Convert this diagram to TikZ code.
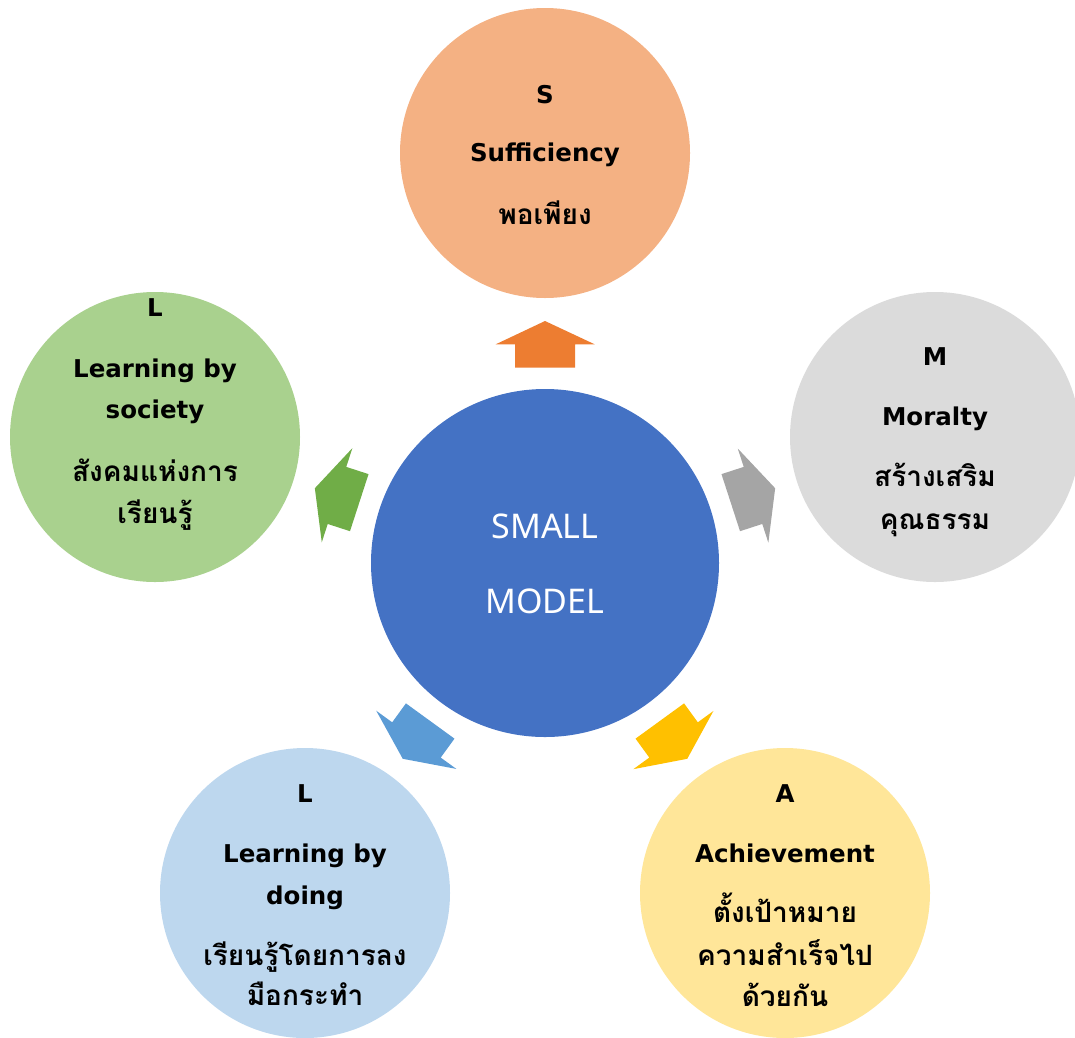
\documentclass[tikz,border=0pt]{standalone}
\usepackage{fontspec}
\setmainfont{DejaVu Sans}
\newfontfamily\ctrfont{Noto Sans}
\newfontfamily\thaifont[Script=Thai]{Loma}
\definecolor{cS}{HTML}{F4B183}
\definecolor{cM}{HTML}{DBDBDB}
\definecolor{cLl}{HTML}{A9D18E}
\definecolor{cLb}{HTML}{BDD7EE}
\definecolor{cA}{HTML}{FFE699}
\definecolor{cC}{HTML}{4472C4}
\definecolor{aO}{HTML}{ED7D31}
\definecolor{aG}{HTML}{A5A5A5}
\definecolor{aY}{HTML}{FFC000}
\definecolor{aB}{HTML}{5B9BD5}
\definecolor{aGr}{HTML}{70AD47}
\tikzset{
  sat/.style={circle, inner sep=0pt, minimum size=290pt, draw=none},
  lat/.style={anchor=base, inner sep=0pt, font=\fontsize{24.5}{29}\selectfont\bfseries},
  th/.style={anchor=base, inner sep=0pt, font=\fontsize{28}{33}\selectfont\thaifont\bfseries},
  ctr/.style={anchor=base, inner sep=0pt, text=white, font=\fontsize{34}{40}\selectfont\ctrfont},
}
\begin{document}
\begin{tikzpicture}[x=1pt,y=-1pt]
\useasboundingbox (0,0) rectangle (1075,1037);
\clip (0,0) rectangle (1075,1037);
\coordinate (c) at (545,563);
% satellites
\node[sat, fill=cS] (S) at (545,153) {};
\node[sat, fill=cM] (M) at (935,437) {};
\node[sat, fill=cA] (A) at (785,893) {};
\node[sat, fill=cLb] (Lb) at (305,893) {};
\node[sat, fill=cLl] (Ll) at (155,437) {};
% centre
\node[circle, inner sep=0pt, minimum size=348pt, fill=cC] (C) at (c) {};
% arrows
\foreach \ang/\col in {0/aO, 72/aGr, -72/aG, -144/aY, 144/aB}{
  \begin{scope}[rotate around={\ang:(c)}]
    \fill[\col] (545,321) -- (594.7,344.3) -- (575,344.3) -- (575,367.7)
      -- (515,367.7) -- (515,344.3) -- (495.7,344.3) -- cycle;
  \end{scope}
}
% texts
\node[ctr] (c1) at (545,538) {SMALL};
\node[ctr] (c2) at (545,613) {MODEL};

\node[lat] (s1) at (545,103) {S};
\node[lat] (s2) at (545,161) {Sufficiency};
\node[th]  (s3) at (545,224) {พอเพียง};

\node[lat] (m1) at (935,365) {M};
\node[lat] (m2) at (935,425) {Moralty};
\node[th]  (m3) at (935,486) {สร้างเสริม};
\node[th]  (m4) at (935,529) {คุณธรรม};

\node[lat] (l1) at (155,316) {L};
\node[lat] (l2) at (155,377) {Learning by};
\node[lat] (l3) at (155,418) {society};
\node[th]  (l4) at (155,481) {สังคมแห่งการ};
\node[th]  (l5) at (155,523) {เรียนรู้};

\node[lat] (b1) at (305,802) {L};
\node[lat] (b2) at (305,862) {Learning by};
\node[lat] (b3) at (305,904) {doing};
\node[th]  (b4) at (305,965) {เรียนรู้โดยการลง};
\node[th]  (b5) at (305,1005) {มือกระทำ};

\node[lat] (a1) at (785,802) {A};
\node[lat] (a2) at (785,862) {Achievement};
\node[th]  (a3) at (785,922) {ตั้งเป้าหมาย};
\node[th]  (a4) at (785,965) {ความสำเร็จไป};
\node[th]  (a5) at (785,1006) {ด้วยกัน};
\end{tikzpicture}
\end{document}
